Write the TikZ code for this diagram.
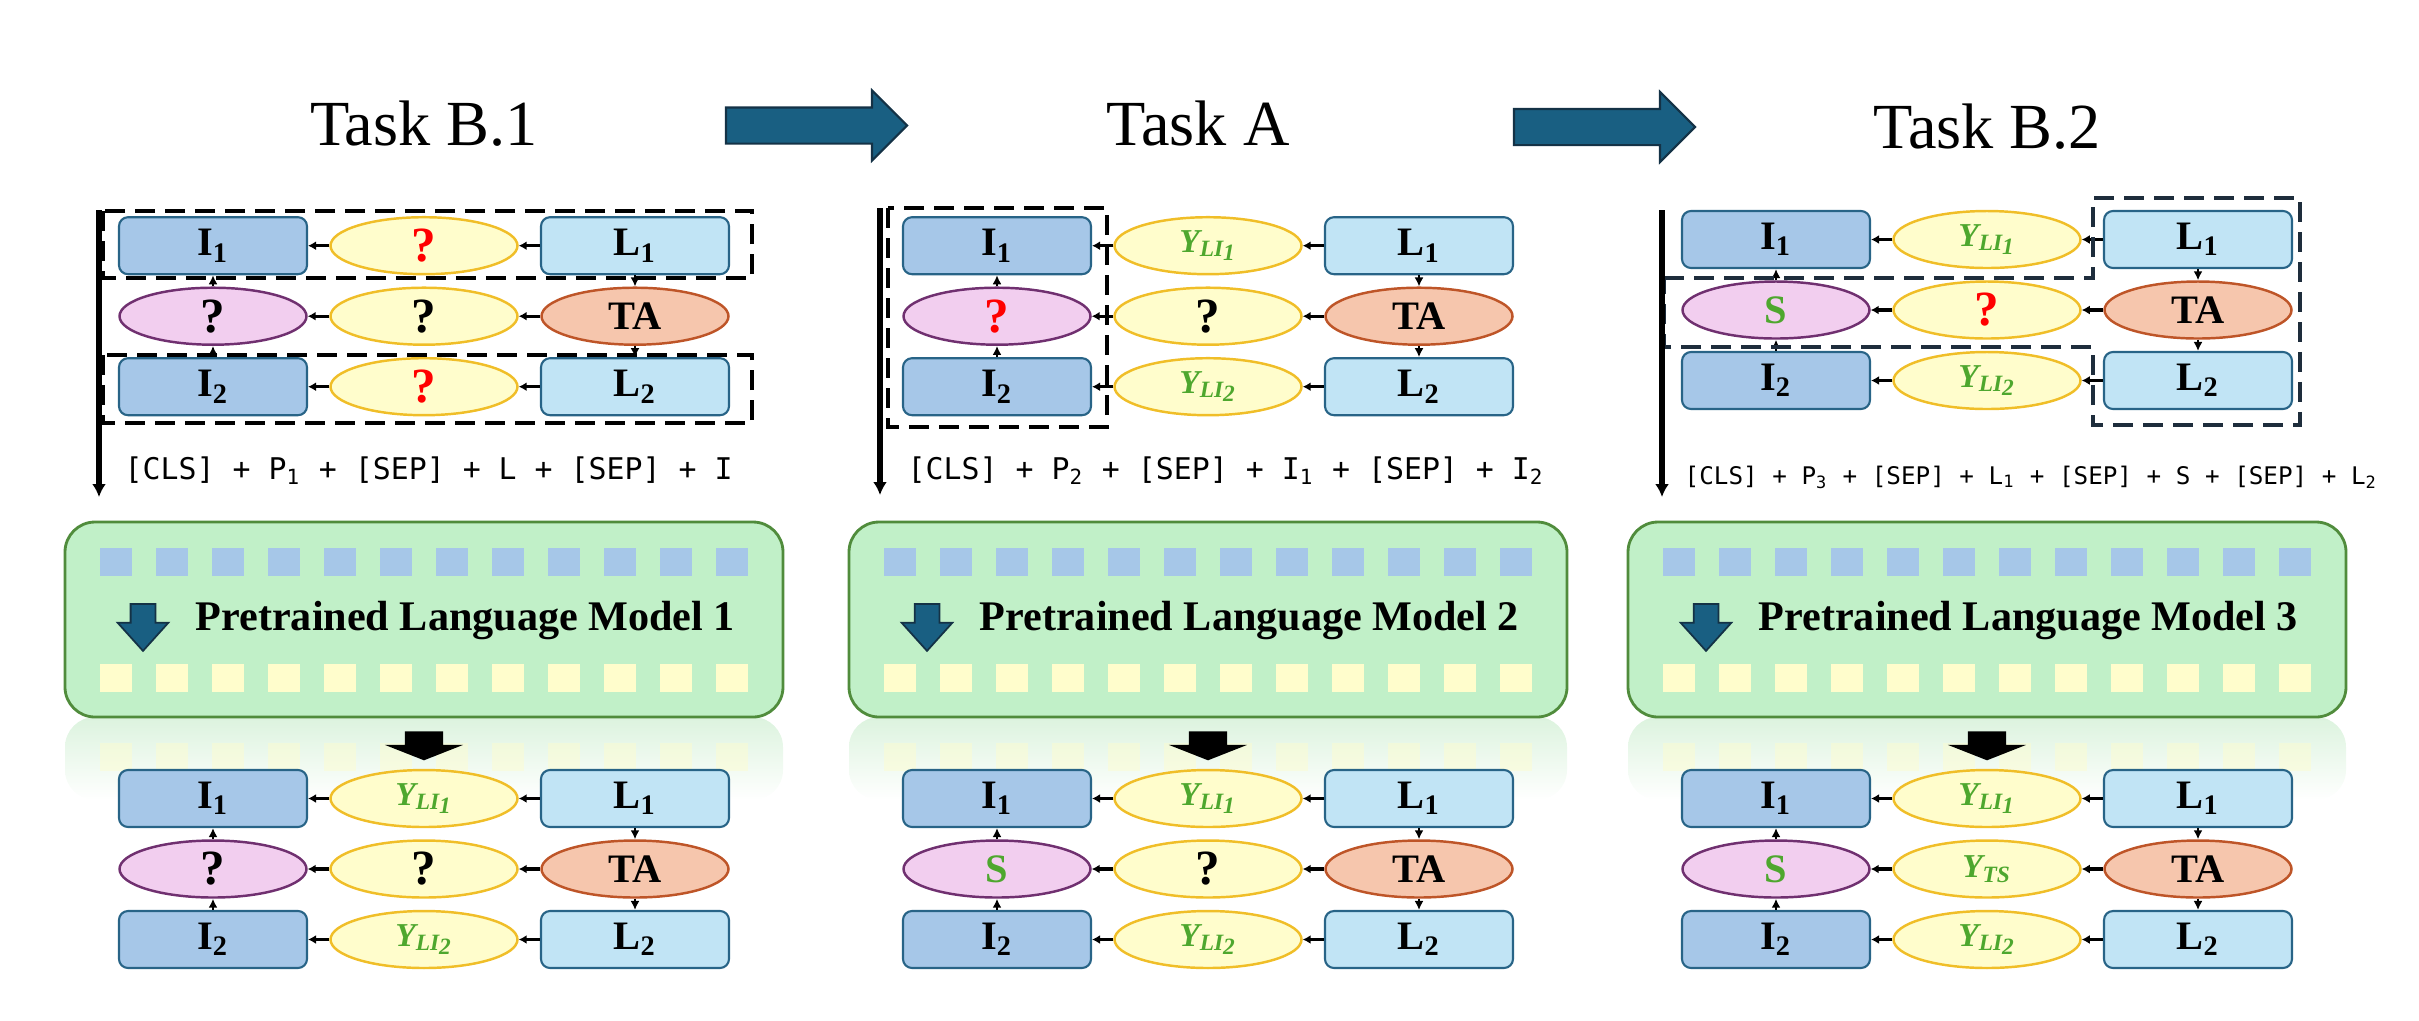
\documentclass[tikz,border=0pt]{standalone}
\usepackage{fontspec}
\setmainfont{Liberation Serif}
\newfontfamily\codefont{DejaVu Sans Mono}
\usepackage{tikz}
\usetikzlibrary{shapes.geometric, shapes.arrows, arrows.meta, positioning}

\definecolor{ifill}{RGB}{166,199,232}
\definecolor{lfill}{RGB}{193,228,245}
\definecolor{boxline}{RGB}{40,100,135}
\definecolor{yfill}{RGB}{255,253,204}
\definecolor{yline}{RGB}{240,190,40}
\definecolor{pfill}{RGB}{242,206,239}
\definecolor{pline}{RGB}{112,48,112}
\definecolor{tfill}{RGB}{246,198,173}
\definecolor{tline}{RGB}{190,85,40}
\definecolor{plmfill}{RGB}{193,240,200}
\definecolor{plmline}{RGB}{80,140,60}
\definecolor{reflgreen}{RGB}{220,243,222}
\definecolor{arrowteal}{RGB}{25,95,130}
\definecolor{tealdark}{RGB}{20,50,70}
\definecolor{ygreen}{RGB}{78,167,46}
\definecolor{navydash}{RGB}{30,45,60}

\newcommand{\nodefont}{\fontsize{11.5}{13}\selectfont\bfseries}
\newcommand{\qm}{{\fontsize{14}{16}\selectfont ?}}
\newcommand{\qred}{\textcolor{red}{\qm}}
\newcommand{\ylab}[1]{\textcolor{ygreen}{\fontsize{9.5}{11}\selectfont\itshape Y\textsubscript{#1}}}
\newcommand{\yli}[1]{\ylab{LI\raisebox{-0.4ex}{#1}}}
\newcommand{\sgreen}{\textcolor{ygreen}{S}}

\tikzset{
  ibox/.style={rectangle, rounded corners=0.9mm, draw=boxline, line width=0.6pt, fill=ifill,
    minimum width=18.8mm, minimum height=5.7mm, inner sep=0pt, font=\nodefont},
  lbox/.style={ibox, fill=lfill},
  yell/.style={ellipse, draw=yline, line width=0.7pt, fill=yfill,
    minimum width=18.7mm, minimum height=5.7mm, inner sep=0pt, font=\nodefont},
  pell/.style={yell, draw=pline, fill=pfill},
  tell/.style={yell, draw=tline, fill=tfill},
  harr/.style={-{Latex[length=0.8mm,width=0.9mm]}, line width=0.9pt},
  varr/.style={-{Latex[length=0.9mm,width=0.9mm]}, line width=0.5pt},
  bigarr/.style={-{Latex[length=1.3mm,width=1.4mm]}, line width=1.5pt},
  dashfrm/.style={line width=1.1pt, dash pattern=on 2mm off 1mm},
  title/.style={font=\fontsize{18.3}{22}\selectfont, inner sep=0pt},
  code/.style={anchor=base west, inner sep=0pt, font=\codefont\fontsize{8.5}{10}\selectfont},
  codesmall/.style={code, font=\codefont\fontsize{6.9}{8}\selectfont},
  goarrow/.style={single arrow, fill=arrowteal, draw=tealdark, line width=0.6pt,
    minimum height=18.1mm, inner xsep=0pt, inner ysep=1.7mm, single arrow head extend=1.7mm},
  plm/.style={rectangle, rounded corners=3mm, draw=plmline, line width=0.8pt, fill=plmfill,
    minimum width=71.8mm, minimum height=19.5mm, inner sep=0pt},
  plmtext/.style={font=\fontsize{12}{14}\selectfont\bfseries, inner sep=0pt},
  bsq/.style={rectangle, fill=ifill, minimum width=3.2mm, minimum height=2.8mm, inner sep=0pt},
  ysq/.style={bsq, fill=yfill},
  downarr/.style={single arrow, rotate=-90, fill=arrowteal, draw=tealdark, line width=0.5pt,
    minimum height=4.7mm, inner xsep=0pt, inner ysep=1.15mm, single arrow head extend=1.3mm,
    single arrow tip angle=84},
  outarr/.style={single arrow, rotate=-90, fill=black, minimum height=2.9mm,
    inner xsep=0pt, inner ysep=1.85mm, single arrow head extend=2mm, single arrow tip angle=137}
}

% #1 prefix, #2 x centre, #3 y of first row, #4-#6 middle column, #7 pink ellipse
\newcommand{\taskgrid}[7]{%
  \node[ibox] (#1i1) at (#2-211,#3) {I\textsubscript{1}};
  \node[yell] (#1y1) at (#2,#3) {#4};
  \node[lbox] (#1l1) at (#2+211,#3) {L\textsubscript{1}};
  \node[pell] (#1s) at (#2-211,#3+70.5) {#7};
  \node[yell] (#1y2) at (#2,#3+70.5) {#5};
  \node[tell] (#1ta) at (#2+211,#3+70.5) {TA};
  \node[ibox] (#1i2) at (#2-211,#3+141) {I\textsubscript{2}};
  \node[yell] (#1y3) at (#2,#3+141) {#6};
  \node[lbox] (#1l2) at (#2+211,#3+141) {L\textsubscript{2}};
  \draw[harr] (#1y1) -- (#1i1);
  \draw[harr] (#1l1) -- (#1y1);
  \draw[harr] (#1y2) -- (#1s);
  \draw[harr] (#1ta) -- (#1y2);
  \draw[harr] (#1y3) -- (#1i2);
  \draw[harr] (#1l2) -- (#1y3);
  \draw[varr] (#1s) -- (#1i1);
  \draw[varr] (#1i2) -- (#1s);
  \draw[varr] (#1l1) -- (#1ta);
  \draw[varr] (#1ta) -- (#1l2);
}

% #1 prefix, #2 x centre, #3 model number
\newcommand{\plmodel}[3]{%
  \shade[top color=reflgreen, bottom color=white, rounded corners=3mm] (#2-359,717) rectangle (#2+359,800);
  \node[plm] (#1) at (#2,619.5) {};
  \foreach \k in {1,...,12}{
    \node[bsq] (#1b\k) at ({#2+(\k-6.5)*56},562) {};
    \node[ysq] (#1y\k) at ({#2+(\k-6.5)*56},678) {};
    \node[ysq, opacity=0.45] (#1r\k) at ({#2+(\k-6.5)*56},756.5) {};
  }
  \node[downarr] (#1d) at (#2-281,620.5) {};
  \node[plmtext, anchor=west] (#1t) at (#2-229,621) {Pretrained Language Model #3};
  \node[outarr] (#1o) at (#2,742) {};
}

\begin{document}
\begin{tikzpicture}[x=0.1mm, y=-0.1mm]
\useasboundingbox (0,0) rectangle (2419,1020);

\node[title, anchor=base] (tb1) at (424,145) {Task B.1};
\node[title, anchor=base] (ta) at (1198,145) {Task A};
\node[title, anchor=base] (tb2) at (1987,148) {Task B.2};
\node[goarrow] (go1) at (807.5,125.5) {};
\node[goarrow] (go2) at (1595.5,127) {};

% Task B.1
\taskgrid{upa}{424}{245.7}{\qred}{\qm}{\qred}{\qm}
\draw[dashfrm] (103,211) rectangle (752,278);
\draw[dashfrm] (103,355) rectangle (752,423);
\coordinate (sa) at (99,210);
\coordinate (ea) at (99,497);
\draw[bigarr] (sa) -- (ea);
\node[code] (ca) at (124,479) {[CLS] + P\textsubscript{1} + [SEP] + L + [SEP] + I};
\plmodel{plma}{424}{1}
\taskgrid{dna}{424}{798.5}{\yli{1}}{\qm}{\yli{2}}{\qm}

% Task A
\taskgrid{upb}{1208}{245.7}{\yli{1}}{\qm}{\yli{2}}{\qred}
\draw[dashfrm] (888,208) rectangle (1107,427);
\coordinate (sb) at (880,208);
\coordinate (eb) at (880,495);
\draw[bigarr] (sb) -- (eb);
\node[code] (cb) at (907,479) {[CLS] + P\textsubscript{2} + [SEP] + I\textsubscript{1} + [SEP] + I\textsubscript{2}};
\plmodel{plmb}{1208}{2}
\taskgrid{dnb}{1208}{798.5}{\yli{1}}{\qm}{\yli{2}}{\sgreen}

% Task B.2
\taskgrid{upc}{1987}{239.5}{\yli{1}}{\qred}{\yli{2}}{\sgreen}
\draw[dashfrm, navydash] (1664,278) -- (2093,278) -- (2093,198) -- (2300,198) -- (2300,425)
  -- (2093,425) -- (2093,347) -- (1664,347) -- cycle;
\coordinate (sc) at (1662,210);
\coordinate (ec) at (1662,497);
\draw[bigarr] (sc) -- (ec);
\node[codesmall] (cc) at (1684,484) {[CLS] + P\textsubscript{3} + [SEP] + L\textsubscript{1} + [SEP] + S + [SEP] + L\textsubscript{2}};
\plmodel{plmc}{1987}{3}
\taskgrid{dnc}{1987}{798.5}{\yli{1}}{\ylab{TS}}{\yli{2}}{\sgreen}
\end{tikzpicture}
\end{document}
